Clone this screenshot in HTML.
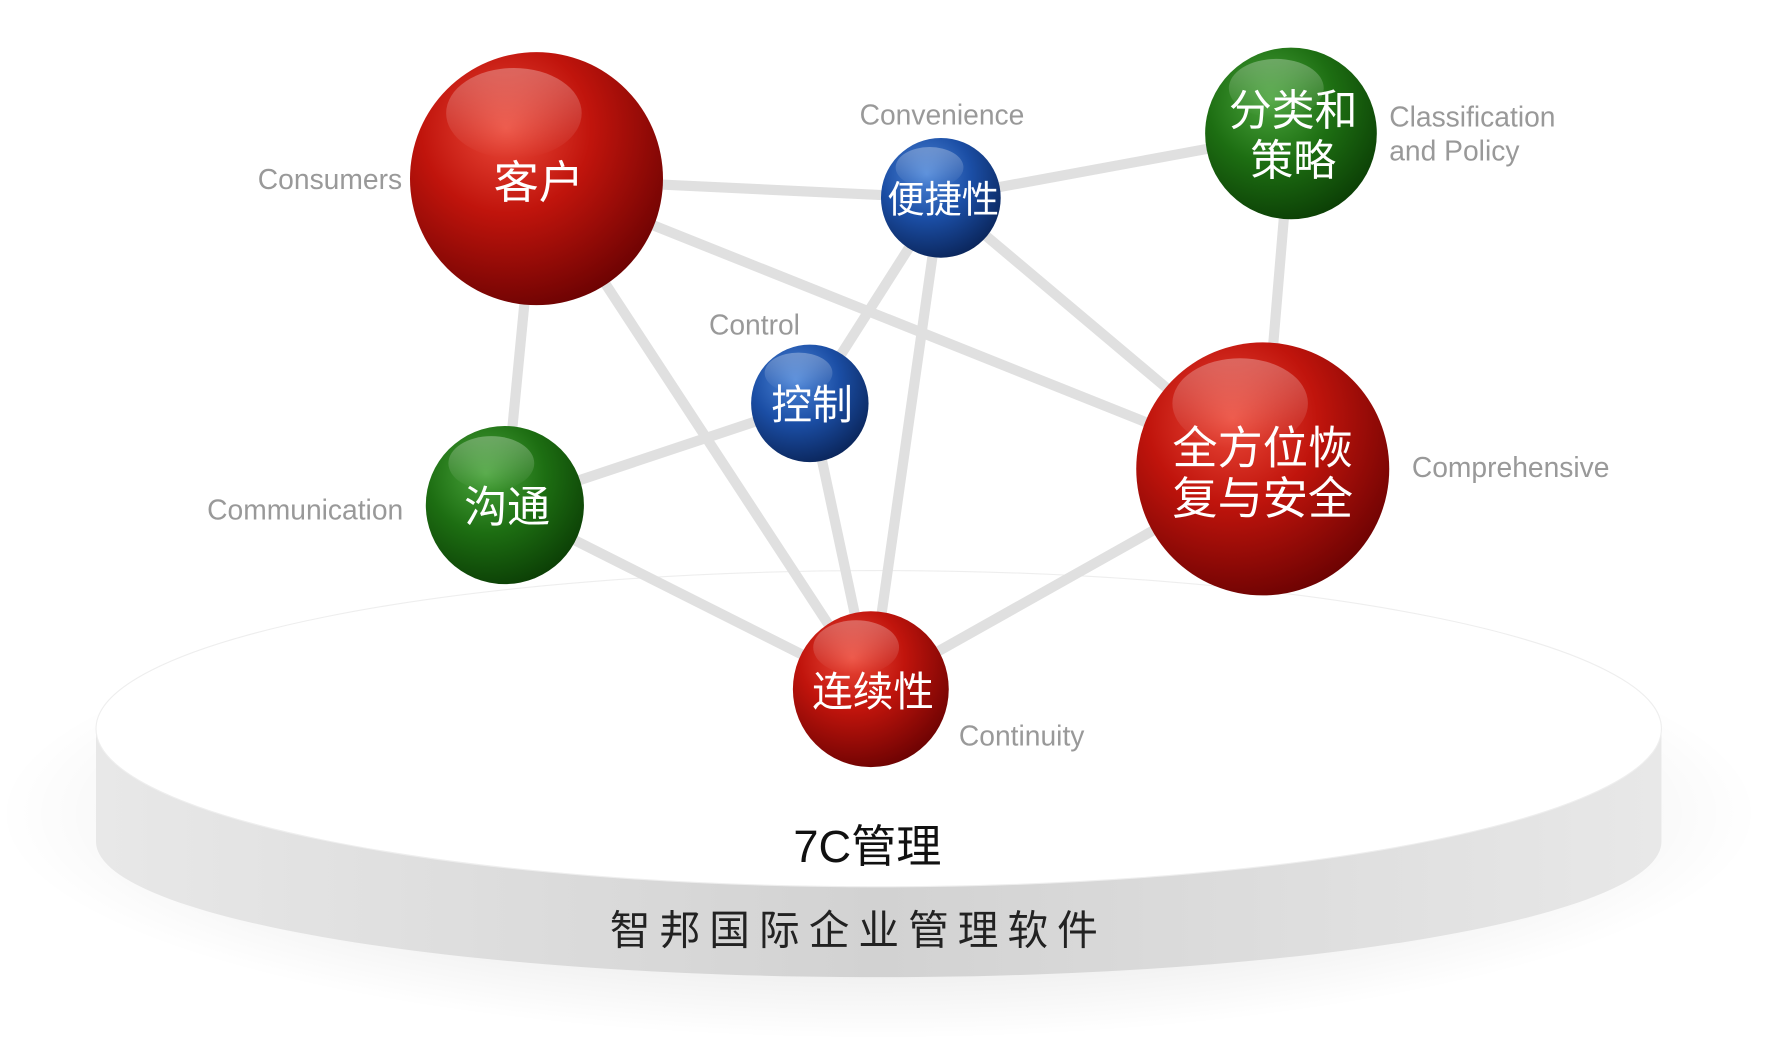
<!DOCTYPE html>
<html><head><meta charset="utf-8"><style>
html,body{margin:0;padding:0;background:#fff;}
svg{display:block;}
</style></head><body>
<svg width="1771" height="1044" viewBox="0 0 1568 924" xmlns="http://www.w3.org/2000/svg">
<defs>
<radialGradient id="red" cx="0.38" cy="0.3" r="0.75">
<stop offset="0" stop-color="#ec4a3a"/><stop offset="0.45" stop-color="#c0140c"/><stop offset="1" stop-color="#6a0202"/></radialGradient>
<radialGradient id="blue" cx="0.38" cy="0.3" r="0.75">
<stop offset="0" stop-color="#4d86d8"/><stop offset="0.5" stop-color="#1b4ea5"/><stop offset="1" stop-color="#0a2458"/></radialGradient>
<radialGradient id="green" cx="0.38" cy="0.3" r="0.75">
<stop offset="0" stop-color="#4aa43c"/><stop offset="0.5" stop-color="#1d6e12"/><stop offset="1" stop-color="#0b3d05"/></radialGradient>
<linearGradient id="hl" x1="0" y1="0" x2="0" y2="1">
<stop offset="0" stop-color="#fff" stop-opacity="0.3"/><stop offset="1" stop-color="#fff" stop-opacity="0"/></linearGradient>
<linearGradient id="side" x1="0" y1="0" x2="1" y2="0">
<stop offset="0" stop-color="#e8e8e8"/><stop offset="0.5" stop-color="#d2d2d2"/><stop offset="1" stop-color="#e8e8e8"/></linearGradient>
<radialGradient id="shadow" cx="0.5" cy="0.5" r="0.5">
<stop offset="0.6" stop-color="#000" stop-opacity="0.08"/><stop offset="1" stop-color="#000" stop-opacity="0"/></radialGradient>
</defs>
<ellipse cx="778" cy="720" rx="780" ry="200" fill="url(#shadow)"/>
<path d="M85 645 L85 745 A693 120 0 0 0 1471 745 L1471 645 Z" fill="url(#side)"/>
<ellipse cx="778" cy="645" rx="693" ry="140" fill="#fff" stroke="#eee" stroke-width="1"/>
<text x="768" y="763" font-family="Liberation Sans,'Noto Sans CJK SC',sans-serif" font-size="40" text-anchor="middle" fill="#111">7C管理</text>
<text x="760" y="836" font-family="'Noto Sans CJK SC',sans-serif" font-size="36" letter-spacing="8" text-anchor="middle" fill="#222">智邦国际企业管理软件</text>
<g stroke="#e0e0e0" stroke-width="9" stroke-linecap="round">
<line x1="475" y1="158" x2="833" y2="175"/>
<line x1="833" y1="175" x2="1143" y2="118"/>
<line x1="1143" y1="118" x2="1118" y2="415"/>
<line x1="475" y1="158" x2="1118" y2="415"/>
<line x1="475" y1="158" x2="447" y2="447"/>
<line x1="475" y1="158" x2="771" y2="610"/>
<line x1="833" y1="175" x2="717" y2="357"/>
<line x1="833" y1="175" x2="771" y2="610"/>
<line x1="833" y1="175" x2="1118" y2="415"/>
<line x1="717" y1="357" x2="447" y2="447"/>
<line x1="717" y1="357" x2="771" y2="610"/>
<line x1="447" y1="447" x2="771" y2="610"/>
<line x1="771" y1="610" x2="1118" y2="415"/>
</g>
<g font-family="'Noto Sans CJK SC',sans-serif" fill="#fff" text-anchor="middle">
<circle cx="475" cy="158" r="112" fill="url(#red)"/><ellipse cx="455" cy="100" rx="60" ry="40" fill="url(#hl)"/>
<text x="477" y="175" font-size="40" fill="#fff">客户</text>
<circle cx="833" cy="175" r="53" fill="url(#blue)"/><ellipse cx="823" cy="148" rx="30" ry="18" fill="url(#hl)"/>
<text x="835" y="188" font-size="33" fill="#fff">便捷性</text>
<circle cx="1143" cy="118" r="76" fill="url(#green)"/><ellipse cx="1130" cy="78" rx="42" ry="26" fill="url(#hl)"/>
<text x="1145" y="111" font-size="38" fill="#fff">分类和</text>
<text x="1145" y="155" font-size="38" fill="#fff">策略</text>
<circle cx="717" cy="357" r="52" fill="url(#blue)"/><ellipse cx="707" cy="330" rx="30" ry="18" fill="url(#hl)"/>
<text x="719" y="371" font-size="36" fill="#fff">控制</text>
<circle cx="447" cy="447" r="70" fill="url(#green)"/><ellipse cx="435" cy="410" rx="38" ry="24" fill="url(#hl)"/>
<text x="449" y="462" font-size="38" fill="#fff">沟通</text>
<circle cx="1118" cy="415" r="112" fill="url(#red)"/><ellipse cx="1098" cy="357" rx="60" ry="40" fill="url(#hl)"/>
<text x="1118" y="410" font-size="40" fill="#fff">全方位恢</text>
<text x="1118" y="455" font-size="40" fill="#fff">复与安全</text>
<circle cx="771" cy="610" r="69" fill="url(#red)"/><ellipse cx="758" cy="573" rx="38" ry="24" fill="url(#hl)"/>
<text x="773" y="625" font-size="36" fill="#fff">连续性</text>
</g>
<g font-family="Liberation Sans,sans-serif" font-size="25" fill="#999">
<text x="356" y="167" text-anchor="end">Consumers</text>
<text x="834" y="110" text-anchor="middle">Convenience</text>
<text x="1230" y="112">Classification</text>
<text x="1230" y="142">and Policy</text>
<text x="668" y="296" text-anchor="middle">Control</text>
<text x="357" y="460" text-anchor="end">Communication</text>
<text x="1250" y="422">Comprehensive</text>
<text x="849" y="660">Continuity</text>
</g>
</svg>
</body></html>
